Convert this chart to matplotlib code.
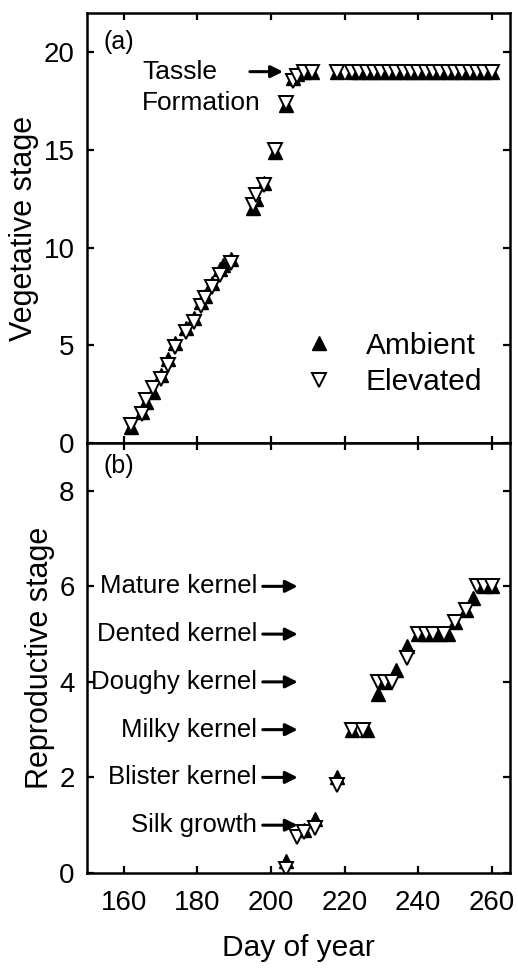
import matplotlib.pyplot as plt

plt.rcParams['font.family'] = ['Liberation Sans', 'DejaVu Sans']
plt.rcParams['font.size'] = 18

# vegetative stage (panel a)
veg_amb_day = [162, 165, 166, 168, 170, 172, 174, 177, 179, 181, 182, 184, 186, 187, 189,
               195, 196, 198, 201, 204, 206, 207, 209, 211, 218,
               222, 224, 226, 228, 230, 232, 234, 236, 238, 240,
               242, 244, 246, 248, 250, 252, 254, 256, 258, 260]
veg_amb = [0.8, 1.6, 2.1, 2.6, 3.5, 4.3, 5.1, 5.9, 6.4, 7.2, 7.5, 8.2, 8.9, 9.1, 9.4,
           12.0, 12.5, 13.3, 14.9, 17.3, 18.7, 18.9, 19, 19, 19,
           19, 19, 19, 19, 19, 19, 19, 19, 19, 19,
           19, 19, 19, 19, 19, 19, 19, 19, 19, 19]
veg_elev_day = [162, 165, 166, 168, 170, 172, 174, 177, 179, 181, 182, 184, 186, 189,
                195, 196, 198, 201, 204, 206, 207, 209, 211, 218,
                222, 224, 226, 228, 230, 232, 234, 236, 238, 240,
                242, 244, 246, 248, 250, 252, 254, 256, 258, 260]
veg_elev = [0.9, 1.5, 2.2, 2.8, 3.3, 4.0, 4.9, 5.7, 6.2, 7.0, 7.4, 8.0, 8.6, 9.2,
            12.2, 12.7, 13.2, 15.0, 17.4, 18.5, 18.8, 19, 19, 19,
            19, 19, 19, 19, 19, 19, 19, 19, 19, 19,
            19, 19, 19, 19, 19, 19, 19, 19, 19, 19]

# reproductive stage (panel b)
rep_amb_day = [204, 209, 212, 218, 222, 226, 229, 231, 234, 237, 240, 242, 244, 246, 248,
               250, 253, 255, 258, 260]
rep_amb = [0.25, 0.9, 1.12, 2.0, 3.0, 3.0, 3.75, 4.0, 4.25, 4.75, 5.0, 5.0, 5.0, 5.0, 5.0,
           5.25, 5.5, 5.75, 6.0, 6.0]
rep_elev_day = [204, 207, 209, 212, 218, 222, 225, 229, 231, 233, 237, 240, 242, 244, 247,
                250, 253, 256, 258, 260]
rep_elev = [0.08, 0.75, 0.85, 0.95, 1.85, 3.0, 3.0, 4.0, 4.0, 4.0, 4.5, 5.0, 5.0, 5.0, 5.0,
            5.25, 5.5, 6.0, 6.0, 6.0]

stage_names = ['Silk growth', 'Blister kernel', 'Milky kernel',
               'Doughy kernel', 'Dented kernel', 'Mature kernel']
stage_levels = [1, 2, 3, 4, 5, 6]

fig = plt.figure(figsize=(5.18, 9.72), dpi=100)
ax1 = fig.add_axes([0.168, 0.5442, 0.817, 0.4424])
ax2 = fig.add_axes([0.168, 0.1019, 0.817, 0.4423])

ms = 9.5
arrow = dict(arrowstyle='-|>', lw=2.2, color='black', mutation_scale=18)
for ax in (ax1, ax2):
    for s in ax.spines.values():
        s.set_linewidth(1.8)
    ax.tick_params(direction='in', length=5, width=1.6, top=True, right=True, labelsize=20)
    ax.tick_params(axis='y', pad=9)
    ax.tick_params(axis='x', pad=12)
    ax.set_xlim(150, 265)
    ax.set_xticks([160, 180, 200, 220, 240, 260])

ax1.plot(veg_amb_day, veg_amb, '^', color='black', ms=ms, mec='black', label='Ambient')
ax1.plot(veg_elev_day, veg_elev, 'v', color='white', ms=ms, mec='black', mew=1.4, label='Elevated')
ax1.set_ylim(0, 22)
ax1.set_yticks([0, 5, 10, 15, 20])
ax1.tick_params(labelbottom=False)
ax1.set_ylabel('Vegetative stage', fontsize=22, labelpad=3)
ax1.text(0.04, 0.96, '(a)', transform=ax1.transAxes, va='top', ha='left')
ax1.annotate('', xy=(204, 19), xytext=(193.5, 19), arrowprops=arrow)
ax1.text(165, 19, 'Tassle', va='center', ha='left', fontsize=19)
ax1.text(165, 17.4, 'Formation', va='center', ha='left', fontsize=19)
ax1.legend(loc='center left', bbox_to_anchor=(0.485, 0.184), borderaxespad=0, frameon=False,
           fontsize=21.5, handlelength=1, handletextpad=1.05, labelspacing=0.28, markerscale=1.1)

ax2.plot(rep_amb_day, rep_amb, '^', color='black', ms=ms, mec='black')
ax2.plot(rep_elev_day, rep_elev, 'v', color='white', ms=ms, mec='black', mew=1.4)
ax2.set_ylim(0, 9)
ax2.set_yticks([0, 2, 4, 6, 8])
ax2.set_ylabel('Reproductive stage', fontsize=22, labelpad=3)
ax2.set_xlabel('Day of year', fontsize=21.5, labelpad=13)
ax2.text(0.04, 0.975, '(b)', transform=ax2.transAxes, va='top', ha='left')
for name, lvl in zip(stage_names, stage_levels):
    ax2.text(196.2, lvl, name, va='center', ha='right', fontsize=18.5)
    ax2.annotate('', xy=(208, lvl), xytext=(197, lvl), arrowprops=arrow)

fig.savefig('out.png', dpi=100)
